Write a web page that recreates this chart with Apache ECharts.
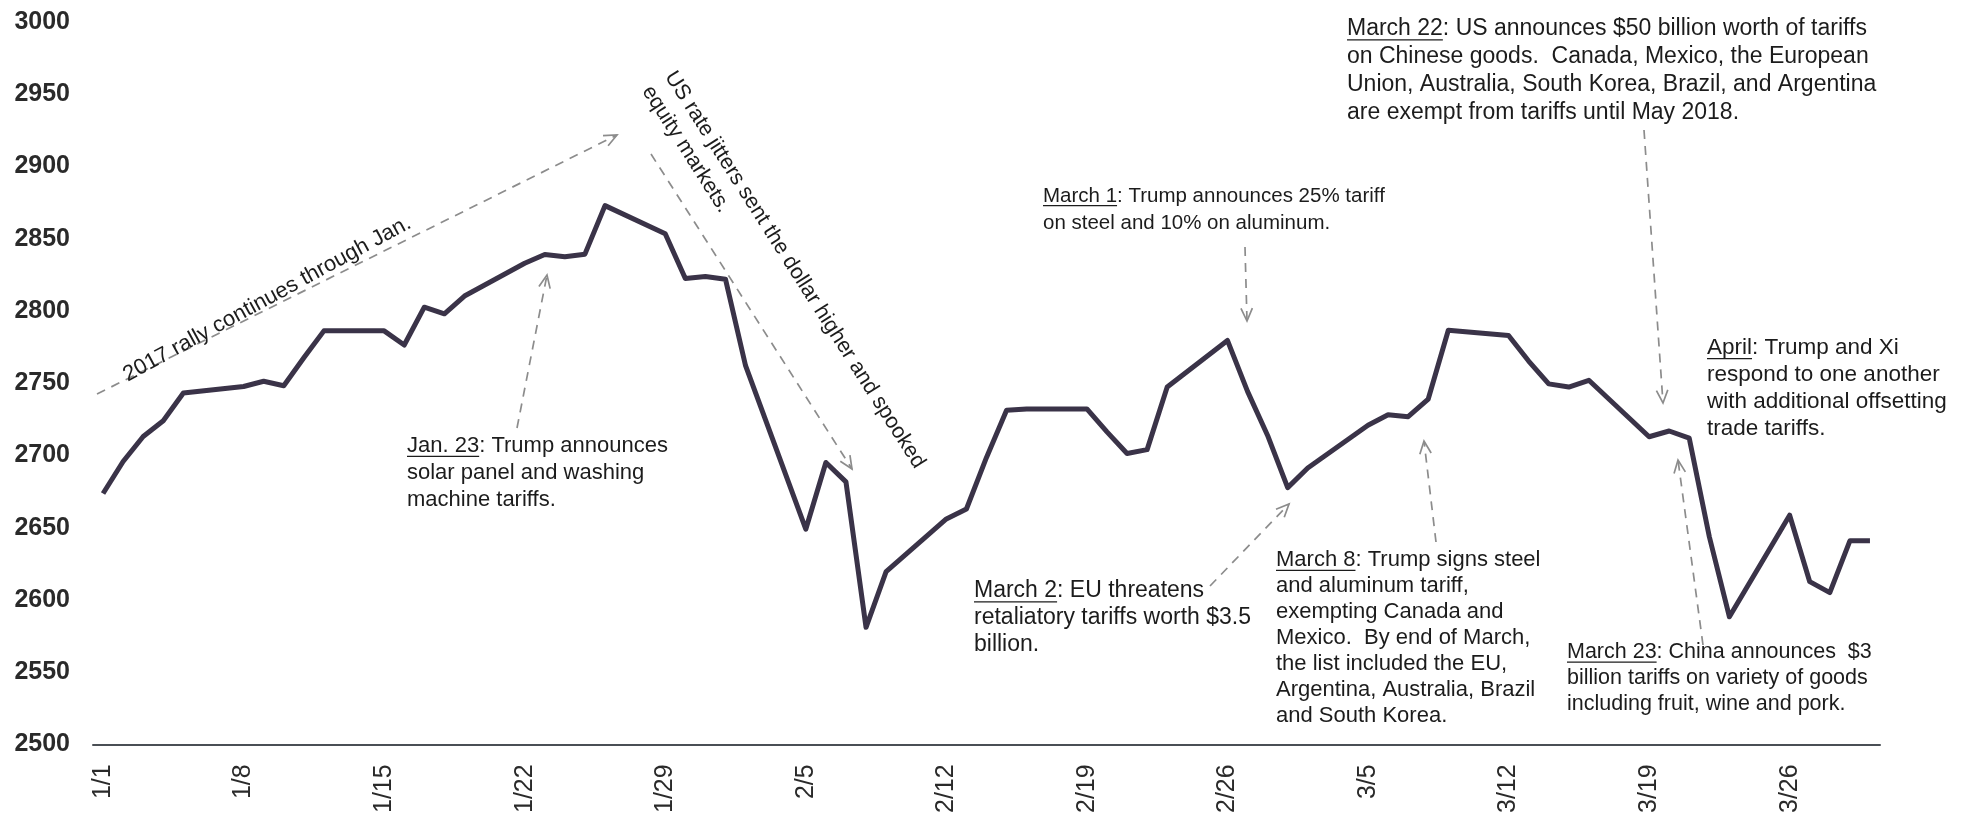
<!DOCTYPE html>
<html><head><meta charset="utf-8">
<script src="https://cdn.jsdelivr.net/npm/echarts@6/dist/echarts.min.js"></script>
<style>html,body{margin:0;padding:0;background:#fff}#c{width:1975px;height:816px}</style>
</head><body><div id="c"></div>
<script>
// Calendar days shown on the x axis
const dates = [
 '1/1','1/2','1/3','1/4','1/5','1/6','1/7','1/8','1/9','1/10','1/11','1/12','1/13','1/14','1/15','1/16',
 '1/17','1/18','1/19','1/20','1/21','1/22','1/23','1/24','1/25','1/26','1/27','1/28','1/29','1/30','1/31',
 '2/1','2/2','2/3','2/4','2/5','2/6','2/7','2/8','2/9','2/10','2/11','2/12','2/13','2/14','2/15','2/16',
 '2/17','2/18','2/19','2/20','2/21','2/22','2/23','2/24','2/25','2/26','2/27','2/28',
 '3/1','3/2','3/3','3/4','3/5','3/6','3/7','3/8','3/9','3/10','3/11','3/12','3/13','3/14','3/15','3/16',
 '3/17','3/18','3/19','3/20','3/21','3/22','3/23','3/24','3/25','3/26','3/27','3/28','3/29','3/30'
];
// Index level (weekends empty, line drawn across them)
const janValues = [2673.6,2695.8,2713.1,2724.0,2743.2,null,null,2747.7,2751.3,2748.2,2767.6,2786.2,null,null,2786.2,2776.4,
 2802.6,2798.0,2810.3,null,null,2833.0,2839.1,2837.5,2839.3,2872.9,null,null,2853.5,2822.4,2823.8];
const febValues = [2822.0,2762.1,null,null,2648.9,2695.1,2681.7,2581.0,2619.6,null,null,2656.0,2662.9,2698.6,2731.2,2732.2,
 null,null,2732.2,2716.3,2701.3,2704.0,2747.3,null,null,2779.6,2744.3,2713.8];
const marValues = [2677.7,2691.3,null,null,2720.9,2728.1,2726.8,2739.0,2786.6,null,null,2783.0,2765.3,2749.5,2747.3,2752.0,
 null,null,2712.9,2716.9,2711.9,2643.7,2588.3,null,null,2658.6,2612.6,2605.0,2640.9,2640.9];
const yMin = 2500, yMax = 3000, yStep = 50;

const values = janValues.concat(febValues, marValues);

const FONT = '"Liberation Sans", Arial, sans-serif';
const TXT = '#1c1c1c';
const ARW = '#8c8c8c';

const mctx = document.createElement('canvas').getContext('2d');
function textW(s, fs){ mctx.font = fs + 'px "Liberation Sans", Arial, sans-serif'; return mctx.measureText(s).width; }

const graphics = [];
function block(x, y, lines, ul, fs, lh){
  lines.forEach((t, i) => {
    graphics.push({type:'text', x:x, y:y + i*lh, silent:true,
      style:{text:t, fontSize:fs, fontFamily:FONT, fill:TXT, align:'left', verticalAlign:'middle'}});
  });
  if (ul){
    const w = textW(ul, fs);
    const uy = y + fs*0.47;
    graphics.push({type:'line', silent:true, shape:{x1:x, y1:uy, x2:x + w, y2:uy}, style:{stroke:TXT, lineWidth:1.3}});
  }
}
function arrow(x1, y1, x2, y2){
  const a = Math.atan2(y2 - y1, x2 - x1), L = 14, sp = 0.42;
  graphics.push({type:'line', silent:true, shape:{x1, y1, x2, y2}, style:{stroke:ARW, lineWidth:1.7, lineDash:[9,7]}});
  graphics.push({type:'polyline', silent:true, shape:{points:[
    [x2 - L*Math.cos(a - sp), y2 - L*Math.sin(a - sp)], [x2, y2],
    [x2 - L*Math.cos(a + sp), y2 - L*Math.sin(a + sp)]]},
    style:{stroke:ARW, lineWidth:1.7, fill:null}});
}

const LH = 27;
block(1347, 29, ['March 22: US announces $50 billion worth of tariffs',
  'on Chinese goods.  Canada, Mexico, the European',
  'Union, Australia, South Korea, Brazil, and Argentina',
  'are exempt from tariffs until May 2018.'], 'March 22', 23, 28);
block(1043, 196, ['March 1: Trump announces 25% tariff', 'on steel and 10% on aluminum.'], 'March 1', 20.5, LH);
block(1707, 348, ['April: Trump and Xi', 'respond to one another', 'with additional offsetting', 'trade tariffs.'], 'April', 22.5, LH);
block(407, 446, ['Jan. 23: Trump announces', 'solar panel and washing', 'machine tariffs.'], 'Jan. 23', 22, LH);
block(974, 591, ['March 2: EU threatens', 'retaliatory tariffs worth $3.5', 'billion.'], 'March 2', 23, LH);
block(1276, 560, ['March 8: Trump signs steel', 'and aluminum tariff,', 'exempting Canada and',
  'Mexico.  By end of March,', 'the list included the EU,', 'Argentina, Australia, Brazil', 'and South Korea.'], 'March 8', 22, 26);
block(1567, 652, ['March 23: China announces  $3', 'billion tariffs on variety of goods', 'including fruit, wine and pork.'], 'March 23', 21.5, 26);

arrow(97, 394, 617, 135);
arrow(651, 154, 852, 469);
arrow(517, 428, 547, 275);
arrow(1245, 247, 1247, 321);
arrow(1210, 586, 1289, 504);
arrow(1436, 542, 1424, 441);
arrow(1644, 130, 1663, 403);
arrow(1703, 645, 1678, 460);

graphics.push({type:'text', x:130, y:386, rotation:28.5*Math.PI/180, silent:true,
  style:{text:'2017 rally continues through Jan.', fontSize:22, fontFamily:FONT, fill:TXT, align:'left', verticalAlign:'bottom'}});
graphics.push({type:'text', x:681, y:66, rotation:-57.5*Math.PI/180, silent:true,
  style:{text:'US rate jitters sent the dollar higher and spooked\nequity markets.', fontSize:21.5, fontFamily:FONT,
    fill:TXT, align:'left', verticalAlign:'top', lineHeight:27}});

const chart = echarts.init(document.getElementById('c'), null, {renderer:'canvas'});
chart.setOption({
  animation:false,
  backgroundColor:'#ffffff',
  grid:{left:93, right:95, top:22, bottom:69, containLabel:false},
  xAxis:{type:'category', data:dates, boundaryGap:true,
    axisLine:{show:true, lineStyle:{color:'#4a4f55', width:2}},
    axisTick:{show:false},
    axisLabel:{interval:6, rotate:90, fontSize:25, fontFamily:FONT, color:'#2a2a2a', margin:20},
    splitLine:{show:false}},
  yAxis:{type:'value', min:yMin, max:yMax, interval:yStep,
    axisLine:{show:false}, axisTick:{show:false}, splitLine:{show:false},
    axisLabel:{fontSize:25, fontWeight:'bold', fontFamily:FONT, color:'#2a2a2a', margin:23,
      formatter:function(v){ return String(v); }}},
  series:[{type:'line', data:values, connectNulls:true, symbol:'none',
    lineStyle:{color:'#3a3348', width:5, join:'round'}}],
  graphic:graphics
});
</script></body></html>
